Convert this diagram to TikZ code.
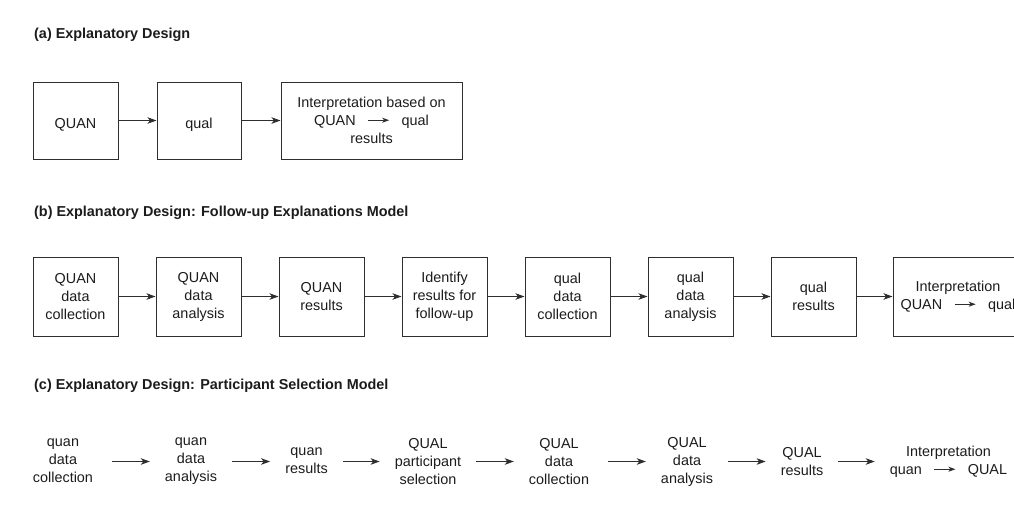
\documentclass[tikz,border=0pt]{standalone}
\usepackage{fontspec}
\setmainfont{Liberation Sans}
\usetikzlibrary{arrows.meta}
\definecolor{ink}{HTML}{1C1C1C}
\definecolor{rule}{HTML}{2E2E2E}
% short inline arrow used inside a line of text
\newcommand\leadsarrow{\tikz[baseline=-5pt]\draw[rule,line width=0.9pt,-{Stealth[length=7pt,width=5pt,inset=2pt]}] (0pt,0pt) -- (21pt,0pt);}
\newcommand\seq[2]{#1\hspace{12pt}\leadsarrow\hspace{12pt}#2}
% invisible rules that fix the height and depth of the first and last lines
\newcommand\linestrut{\rule[-1pt]{0pt}{19pt}}
\newcommand\freestrut{\rule[0pt]{0pt}{21pt}}
\begin{document}
\begin{tikzpicture}[x=1pt,y=-1pt,
  every node/.style={text=ink,font=\fontsize{14.4}{18}\selectfont,align=center,inner sep=0pt,
    execute at begin node=\linestrut,execute at end node=\linestrut},
  heading/.style={anchor=base west,font=\fontsize{14.4}{18}\selectfont\bfseries},
  stagebox/.style={draw=rule,line width=1pt,minimum width=85pt,minimum height=79pt},
  freetext/.style={execute at begin node=\freestrut,execute at end node=\freestrut},
  flow/.style={draw=rule,line width=1pt,-{Stealth[length=9pt,width=6.5pt,inset=2.5pt]}},
  freeflow/.style={flow,shorten <=15pt,shorten >=15pt}
]
\fill[white] (0,0) rectangle (1014,504);
\useasboundingbox (0,0) rectangle (1014,504);
\clip (0,0) rectangle (1014,504);

% (a) explanatory design
\node[heading] (ta) at (34,38.3) {(a) Explanatory Design};
\node[stagebox,minimum height=77pt] (a1) at (75.5,120.5) {QUAN};
\node[stagebox,minimum width=84pt,minimum height=77pt] (a2) at (199,120.5) {qual};
\node[stagebox,minimum width=181pt,minimum height=77pt] (a3) at (371.5,120.5)
  {Interpretation based on\\\seq{QUAN}{qual}\\results};
\draw[flow] (a1) -- (a2);
\draw[flow] (a2) -- (a3);

% (b) follow-up explanations model
\node[heading] (tb) at (34,216) {(b) Explanatory Design: Follow-up Explanations Model};
\node[stagebox] (b1) at (75.5,296.5) {QUAN\\data\\collection};
\node[stagebox] (b2) at (198.5,296.5) {QUAN\\data\\analysis};
\node[stagebox] (b3) at (321.5,296.5) {QUAN\\results};
\node[stagebox] (b4) at (444.5,296.5) {Identify\\results for\\follow-up};
\node[stagebox] (b5) at (567.5,296.5) {qual\\data\\collection};
\node[stagebox] (b6) at (690.5,296.5) {qual\\data\\analysis};
\node[stagebox] (b7) at (813.5,296.5) {qual\\results};
\node[stagebox,minimum width=130pt] (b8) at (958,296.5) {Interpretation\\\seq{QUAN}{qual}};
\foreach \s/\t in {b1/b2,b2/b3,b3/b4,b4/b5,b5/b6,b6/b7,b7/b8}
  \draw[flow] (\s) -- (\t);

% (c) participant selection model
\node[heading] (tc) at (34,389.5) {(c) Explanatory Design: Participant Selection Model};
\node[freetext] (c1) at (63,461.5) {quan\\data\\collection};
\node[freetext] (c2) at (191,461.5) {quan\\data\\analysis};
\node[freetext] (c3) at (306.5,461.5) {quan\\results};
\node[freetext] (c4) at (428,461.5) {QUAL\\participant\\selection};
\node[freetext] (c5) at (559,461.5) {QUAL\\data\\collection};
\node[freetext] (c6) at (687,461.5) {QUAL\\data\\analysis};
\node[freetext] (c7) at (802,461.5) {QUAL\\results};
\node[freetext] (c8) at (948.5,461.5) {Interpretation\\\seq{quan}{QUAL}};
\draw[freeflow,shorten <=19pt] (c1.east) -- (c2.west);
\draw[freeflow] (c2.east) -- (c3.west);
\draw[freeflow] (c3.east) -- (c4.west);
\draw[freeflow] (c4.east) -- (c5.west);
\draw[freeflow,shorten <=19pt] (c5.east) -- (c6.west);
\draw[freeflow] (c6.east) -- (c7.west);
\draw[freeflow] (c7.east) -- (c8.west);
\end{tikzpicture}
\end{document}
